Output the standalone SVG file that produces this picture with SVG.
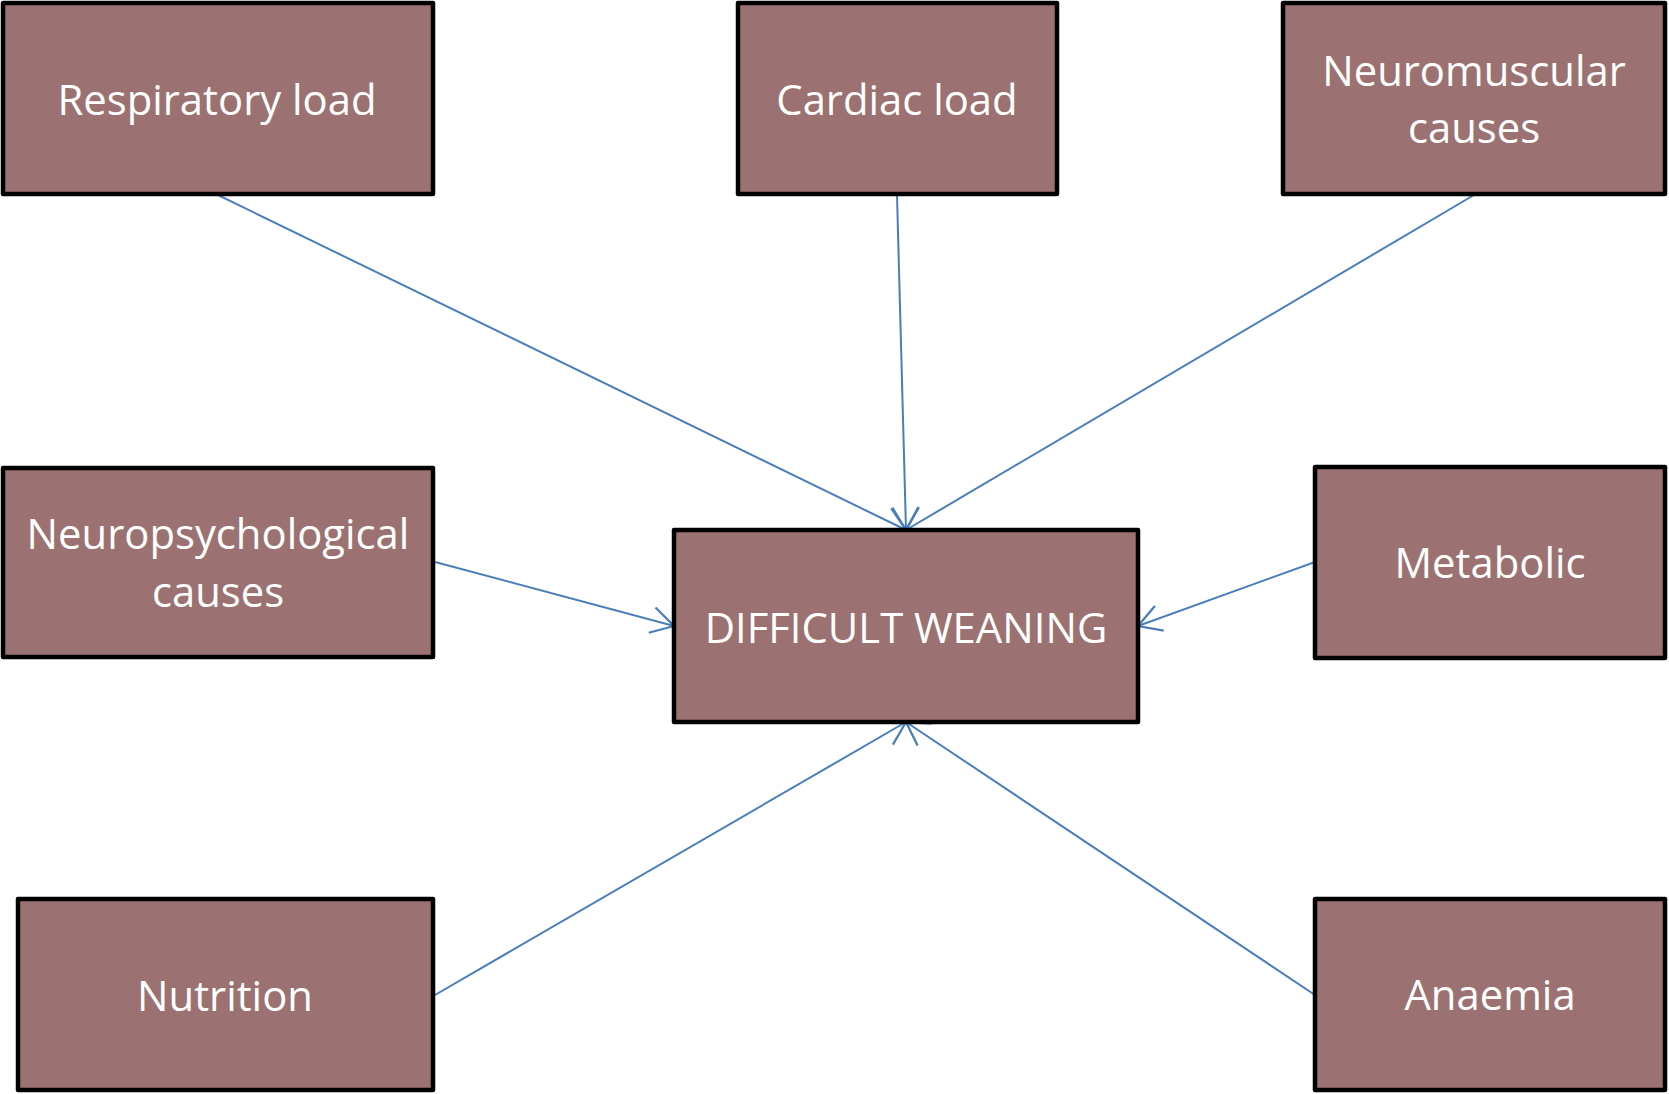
<svg xmlns="http://www.w3.org/2000/svg" width="1669" height="1094" viewBox="0 0 1669 1094">
<style>
.box{fill:#9b7271;stroke:#000;stroke-width:4.5;stroke-linejoin:round}
.lbl{font-family:"Open Sans","Noto Sans","DejaVu Sans",sans-serif;font-size:41.8px;fill:#fff;text-anchor:middle}
.conn line{stroke:#4a7ebb;stroke-width:2;fill:none;marker-end:url(#arr)}
</style>
<defs>
<marker id="arr" markerUnits="userSpaceOnUse" markerWidth="34" markerHeight="34" viewBox="-24 -15 27 30" refX="0" refY="0" orient="auto">
<path d="M -20 -11.5 L 0 0 L -20 11.5" fill="none" stroke="#4a7ebb" stroke-width="2"/>
</marker>
</defs>
<rect width="1669" height="1094" fill="#fff"/>
<g id="connectors" class="conn">
<line x1="218" y1="195" x2="906" y2="530"/>
<line x1="897" y1="195" x2="906" y2="530"/>
<line x1="1474" y1="195" x2="906" y2="530"/>
<line x1="435" y1="562" x2="674" y2="626"/>
<line x1="1315" y1="562" x2="1138" y2="626"/>
<line x1="435" y1="995" x2="906" y2="722"/>
<line x1="1315" y1="995" x2="906" y2="722"/>
</g>
<g id="respiratory">
<rect class="box" x="3" y="3" width="430" height="191"/>
<text class="lbl" x="217" y="115">Respiratory load</text>
</g>
<g id="cardiac">
<rect class="box" x="738" y="3" width="319" height="191"/>
<text class="lbl" x="897" y="115">Cardiac load</text>
</g>
<g id="neuromuscular">
<rect class="box" x="1283" y="3" width="382" height="191"/>
<text class="lbl" x="1474" y="86">Neuromuscular</text>
<text class="lbl" x="1474" y="143">causes</text>
</g>
<g id="neuropsychological">
<rect class="box" x="3" y="468" width="430" height="189"/>
<text class="lbl" x="218" y="549">Neuropsychological</text>
<text class="lbl" x="218" y="607">causes</text>
</g>
<g id="difficult-weaning">
<rect class="box" x="674" y="530" width="464" height="192"/>
<text class="lbl" x="906" y="643">DIFFICULT WEANING</text>
</g>
<g id="metabolic">
<rect class="box" x="1315" y="467" width="350" height="191"/>
<text class="lbl" x="1490" y="578">Metabolic</text>
</g>
<g id="nutrition">
<rect class="box" x="18" y="899" width="415" height="191"/>
<text class="lbl" x="225" y="1011">Nutrition</text>
</g>
<g id="anaemia">
<rect class="box" x="1315" y="899" width="350" height="191"/>
<text class="lbl" x="1490" y="1010">Anaemia</text>
</g>
</svg>
